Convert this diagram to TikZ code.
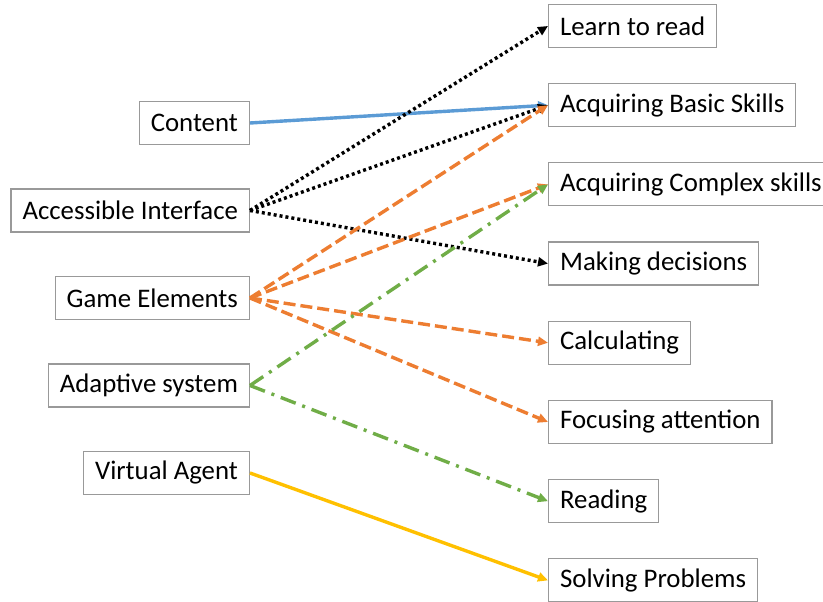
\documentclass[tikz,border=0pt]{standalone}
\usepackage{fontspec}
\setmainfont{Carlito}
\usetikzlibrary{positioning,arrows.meta}
\definecolor{lineblue}{HTML}{5B9BD5}
\definecolor{lineorange}{HTML}{ED7D31}
\definecolor{linegreen}{HTML}{70AD47}
\definecolor{lineyellow}{HTML}{FFC000}
\tikzstyle{box}=[rectangle,minimum height=43pt,inner xsep=11.5pt,
draw=black!40,line width=1.2pt,fill=white,font=\fontsize{26.8}{30}\selectfont]
\tikzstyle{arrow}=[line width=3.4pt,-{Triangle[length=10pt,width=9pt]}]
\tikzstyle{dotarrow}=[arrow,black,dash pattern=on 3pt off 3pt]
\tikzstyle{dasharrow}=[arrow,lineorange,dash pattern=on 12pt off 5pt]
\tikzstyle{dashdotarrow}=[arrow,linegreen,dash pattern=on 16pt off 7pt on 3pt off 7pt]
\begin{document}
\begin{tikzpicture}[x=1pt,y=1pt]
    \useasboundingbox (0,0) rectangle (823,602);
        % left column
        \node (content) [box,anchor=east] at (250,479) {Content};
        \node (access) [box,below=87.5pt of content.east,anchor=east] {Accessible Interface};
        \node (game) [box,below=87.5pt of access.east,anchor=east] {Game Elements};
        \node (adapt) [box,below=87.5pt of game.east,anchor=east] {Adaptive system};
        \node (agent) [box,below=87.5pt of adapt.east,anchor=east] {Virtual Agent};

        % right column
        \node (read) [box,anchor=west] at (548,576) {Learn to read};
        \node (basic) [box,below=79.2pt of read.west,anchor=west] {Acquiring Basic Skills};
        \node (complex) [box,below=79.2pt of basic.west,anchor=west] {Acquiring Complex skills};
        \node (decide) [box,below=79.2pt of complex.west,anchor=west] {Making decisions};
        \node (calc) [box,below=79.2pt of decide.west,anchor=west] {Calculating};
        \node (focus) [box,below=79.2pt of calc.west,anchor=west] {Focusing attention};
        \node (reading) [box,below=79.2pt of focus.west,anchor=west] {Reading};
        \node (solve) [box,below=79.2pt of reading.west,anchor=west] {Solving Problems};

        \draw [arrow,lineblue] (content.east) -- (basic.west);
        \draw [dotarrow] (access.east) -- (read.west);
        \draw [dotarrow] (access.east) -- (basic.west);
        \draw [dotarrow] (access.east) -- (decide.west);
        \draw [dasharrow] (game.east) -- (basic.west);
        \draw [dasharrow] (game.east) -- (complex.west);
        \draw [dasharrow] (game.east) -- (calc.west);
        \draw [dasharrow] (game.east) -- (focus.west);
        \draw [dashdotarrow] (adapt.east) -- (complex.west);
        \draw [dashdotarrow] (adapt.east) -- (reading.west);
        \draw [arrow,lineyellow] (agent.east) -- (solve.west);
    \end{tikzpicture}
\end{document}
